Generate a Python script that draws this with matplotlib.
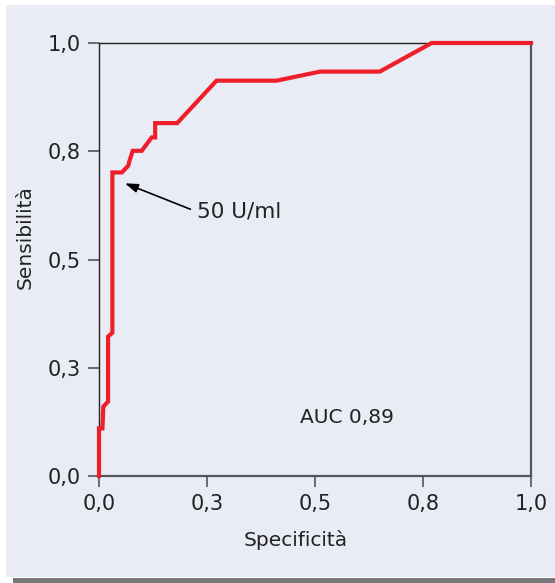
import matplotlib
matplotlib.use("Agg")
import matplotlib.pyplot as plt
from matplotlib.patches import Rectangle

# ROC curve points (1 - specificity on x, sensitivity on y)
spec = [0.0, 0.0, 0.008, 0.010, 0.021, 0.021, 0.031, 0.031, 0.053, 0.068, 0.070,
        0.078, 0.099, 0.122, 0.130, 0.130, 0.181, 0.272, 0.411, 0.512, 0.650,
        0.770, 1.0]
sens = [0.0, 0.110, 0.110, 0.160, 0.172, 0.322, 0.331, 0.701, 0.701, 0.717, 0.726,
        0.751, 0.751, 0.782, 0.782, 0.815, 0.815, 0.913, 0.913, 0.934, 0.934,
        1.0, 1.0]

tick_pos = [0.0, 0.25, 0.5, 0.75, 1.0]
tick_labels = ["0,0", "0,3", "0,5", "0,8", "1,0"]

cutoff_label = "50 U/ml"
cutoff_point = (0.060, 0.676)
auc_label = "AUC 0,89"

W, H = 555, 583
BG = "#e9ecf4"
RED = "#ee1f2a"
SPINE = "#55555a"
TXT = "#222222"

plt.rcParams["font.family"] = ["DejaVu Sans"]

fig = plt.figure(figsize=(W / 100, H / 100), dpi=100, facecolor="white")

# panel background and the dark strip under it
fig.add_artist(Rectangle((6 / W, 1 - 577 / H), 549 / W, 572 / H,
                         transform=fig.transFigure, facecolor=BG,
                         edgecolor="none", zorder=-2))
fig.add_artist(Rectangle((13 / W, 0), 542 / W, 5 / H,
                         transform=fig.transFigure, facecolor="#78787c",
                         edgecolor="none", zorder=-2))

ax = fig.add_axes([99 / W, 1 - 476 / H, 432 / W, 433 / H])
ax.set_facecolor(BG)
ax.plot(spec, sens, color=RED, lw=3.0, clip_on=False, zorder=5,
        solid_joinstyle="miter")

ax.set_xlim(0, 1)
ax.set_ylim(0, 1)
ax.set_xticks(tick_pos)
ax.set_xticklabels(tick_labels)
ax.set_yticks(tick_pos)
ax.set_yticklabels(tick_labels)
ax.tick_params(direction="out", length=8, width=1.2, color=SPINE,
               labelsize=15, labelcolor=TXT, pad=5)

for side in ["left", "top"]:
    ax.spines[side].set_color(TXT)
    ax.spines[side].set_linewidth(1.0)
for side in ["right", "bottom"]:
    ax.spines[side].set_color(SPINE)
    ax.spines[side].set_linewidth(1.6)

ax.set_xlabel("Specificità", fontsize=14.5, color=TXT)
ax.xaxis.set_label_coords(0.456, -0.125)
ax.set_ylabel("Sensibilità", fontsize=14.5, color=TXT)
ax.yaxis.set_label_coords(-0.148, 0.551)

ax.annotate(cutoff_label, xy=cutoff_point, xytext=(0.227, 0.610),
            fontsize=15.5, color=TXT, ha="left", va="center",
            arrowprops=dict(arrowstyle="-|>,head_length=0.5,head_width=0.17",
                            color="black", lw=1.2, relpos=(0, 0.5),
                            shrinkA=3, shrinkB=0))
ax.text(0.574, 0.136, auc_label, fontsize=14.5, color=TXT,
        ha="center", va="center")

fig.savefig("out.png", dpi=100, facecolor="white")
